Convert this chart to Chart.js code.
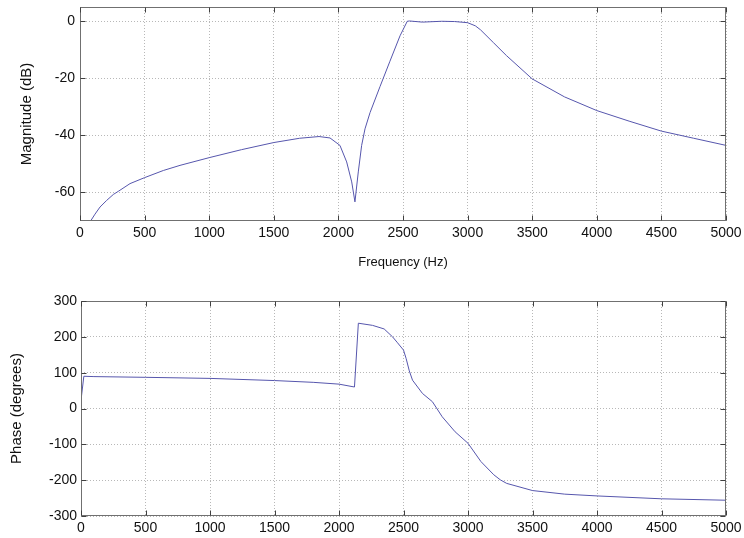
<!DOCTYPE html>
<html>
<head>
<meta charset="utf-8">
<title>Frequency response</title>
<script src="https://cdn.jsdelivr.net/npm/chart.js@4.4.0/dist/chart.umd.min.js"></script>
<style>
    body { margin: 0; background: #fff; overflow: hidden; }
    .plot { position: absolute; left: 0; width: 744px; }
</style>
</head>
<body>
<div class="plot" style="top:0;height:270px"><canvas id="magChart"></canvas></div>
<div class="plot" style="top:270px;height:268px"><canvas id="phaseChart"></canvas></div>
<script>
// values
const freqTicks = [0, 500, 1000, 1500, 2000, 2500, 3000, 3500, 4000, 4500, 5000];
const magTicks = [-60, -40, -20, 0];
const phaseTicks = [-300, -200, -100, 0, 100, 200, 300];

const magFreq = [78, 116, 155, 206, 258, 300, 387, 500, 645, 774, 1000, 1250, 1500, 1700, 1850, 1935, 2012, 2064, 2103, 2128, 2154, 2180, 2206, 2245, 2322, 2399, 2477, 2533, 2550, 2650, 2800, 2900, 3000, 3060, 3100, 3200, 3300, 3500, 3750, 4000, 4250, 4500, 4750, 5000];
const magDb = [-70.3, -67.6, -65.1, -62.8, -60.7, -59.5, -56.9, -54.8, -52.3, -50.5, -47.8, -45, -42.5, -41, -40.4, -40.9, -43.5, -49.3, -56.3, -63.3, -52.8, -43.5, -37.7, -32, -22.9, -14, -5.1, 0, 0.1, -0.3, 0, -0.1, -0.5, -1.6, -3, -7.5, -12, -20.2, -26.5, -31.3, -35, -38.5, -41, -43.5];

const phaseFreq = [0, 22, 100, 500, 1000, 1500, 1800, 2000, 2120, 2150, 2260, 2350, 2415, 2450, 2500, 2520, 2545, 2570, 2647, 2724, 2800, 2900, 3000, 3100, 3200, 3250, 3300, 3500, 3750, 4000, 4500, 5000];
const phaseDeg = [23, 90, 89, 87, 84, 78, 73, 68, 60, 238, 232, 222, 200, 185, 163, 140, 105, 79, 42, 19, -23, -65, -97, -148, -185, -199, -209, -229, -239, -244, -252, -256];

const font = 'Liberation Sans, Arial, Helvetica, sans-serif';
const lineColor = '#5656ad';

// matlab style box with small inner ticks
const boxPlugin = {
    id: 'box',
    afterDraw(chart) {
        const ctx = chart.ctx;
        const a = chart.chartArea;
        const xs = chart.scales.x, ys = chart.scales.y;
        const l = Math.round(a.left) + 0.5, r = Math.round(a.right) - 0.5;
        const t = Math.round(a.top) + 0.5, b = Math.round(a.bottom) - 0.5;
        ctx.save();
        ctx.strokeStyle = '#707070';
        ctx.lineWidth = 1;
        ctx.strokeRect(l, t, r - l, b - t);
        ctx.strokeStyle = '#404040';
        ctx.beginPath();
        xs.ticks.forEach(tk => {
            const px = Math.round(xs.getPixelForValue(tk.value)) + 0.5;
            ctx.moveTo(px, t); ctx.lineTo(px, t + 5);
            ctx.moveTo(px, b); ctx.lineTo(px, b - 5);
        });
        ys.ticks.forEach(tk => {
            const py = Math.round(ys.getPixelForValue(tk.value)) + 0.5;
            ctx.moveTo(l, py); ctx.lineTo(l + 5, py);
            ctx.moveTo(r, py); ctx.lineTo(r - 5, py);
        });
        ctx.stroke();
        ctx.restore();
    }
};

function makeChart(id, xs, ys, yTicks, opts) {
    const grid = { color: '#b8b8b8', lineWidth: 1, drawTicks: false };
    const border = { display: false, dash: [1, 2] };
    return new Chart(document.getElementById(id), {
        type: 'line',
        data: {
            datasets: [{
                data: xs.map((f, i) => ({ x: f, y: ys[i] })),
                borderColor: lineColor,
                borderWidth: 1,
                pointRadius: 0,
                tension: 0,
                fill: false
            }]
        },
        options: {
            responsive: true,
            maintainAspectRatio: false,
            animation: false,
            events: [],
            layout: { padding: { left: 0, right: 18, top: opts.top, bottom: 0 } },
            plugins: { legend: { display: false }, tooltip: { enabled: false } },
            scales: {
                x: {
                    type: 'linear',
                    min: 0,
                    max: 5000,
                    grid: grid,
                    border: border,
                    afterBuildTicks: s => { s.ticks = freqTicks.map(v => ({ value: v })); },
                    afterFit: s => { s.height = opts.xHeight; s.paddingLeft = 0; s.paddingRight = 0; },
                    ticks: {
                        padding: 4,
                        maxRotation: 0,
                        autoSkip: false,
                        color: '#111',
                        font: { family: font, size: 14 },
                        callback: v => String(v)
                    },
                    title: {
                        display: !!opts.xTitle,
                        text: opts.xTitle || '',
                        color: '#111',
                        padding: { top: 0, bottom: 0 },
                        font: { family: font, size: 13 }
                    }
                },
                y: {
                    type: 'linear',
                    min: opts.yMin,
                    max: opts.yMax,
                    grid: grid,
                    border: border,
                    afterBuildTicks: s => { s.ticks = yTicks.map(v => ({ value: v })); },
                    afterFit: s => { s.width = opts.yWidth; s.paddingTop = 0; s.paddingBottom = 0; },
                    ticks: {
                        padding: opts.tickPad,
                        color: '#111',
                        font: { family: font, size: 14 },
                        callback: v => String(v)
                    },
                    title: {
                        display: true,
                        text: opts.yTitle,
                        color: '#111',
                        padding: { top: opts.yTitlePad, bottom: 0 },
                        font: { family: font, size: 15 }
                    }
                }
            }
        },
        plugins: [boxPlugin]
    });
}

makeChart('magChart', magFreq, magDb, magTicks, {
    top: 7, xHeight: 49, yWidth: 80, yMin: -70, yMax: 5, tickPad: 5,
    yTitle: 'Magnitude (dB)', yTitlePad: 18, xTitle: 'Frequency (Hz)'
});

makeChart('phaseChart', phaseFreq, phaseDeg, phaseTicks, {
    top: 31, xHeight: 22, yWidth: 81, yMin: -300, yMax: 300, tickPad: 4,
    yTitle: 'Phase (degrees)', yTitlePad: 7.5
});
</script>
</body>
</html>
